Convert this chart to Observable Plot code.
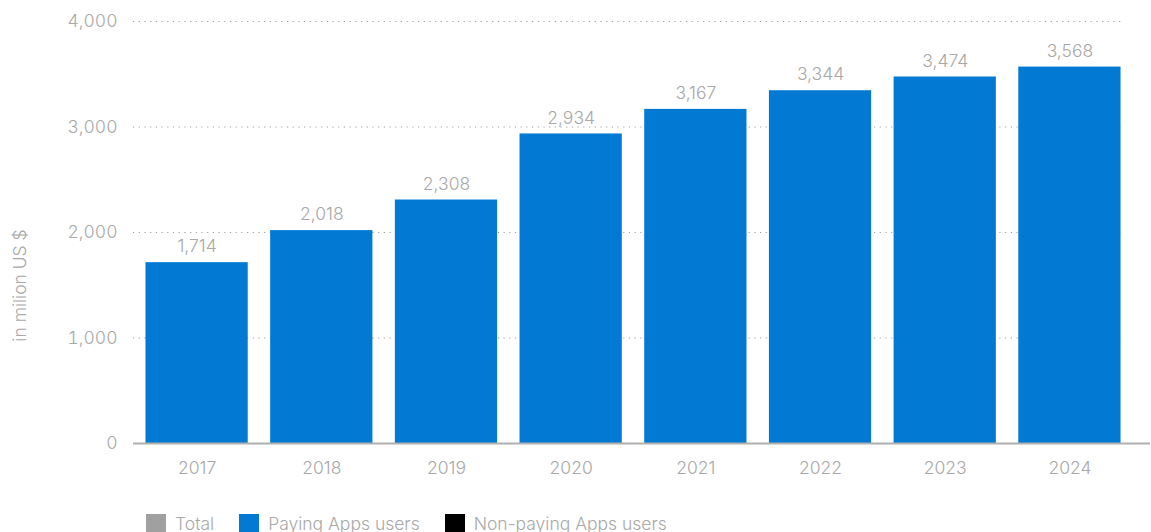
<!DOCTYPE html>
<html>
<head>
<meta charset="utf-8">
<script src="https://cdn.jsdelivr.net/npm/d3@7"></script>
<script src="https://cdn.jsdelivr.net/npm/@observablehq/plot@0.6"></script>
<style>
  html, body { margin: 0; padding: 0; background: #fff; overflow: hidden; }
  body { font-family: Inter, Roboto, sans-serif; font-weight: 300; }
  #legend { display: flex; align-items: center; margin-top: 13px; padding-left: 146px; font-size: 17.5px; color: #a8a8a8; font-weight: 300; }
  .item { display: flex; align-items: center; margin-right: 25px; }
  .sw { width: 20px; height: 20px; margin-right: 9px; }
</style>
</head>
<body>
<div id="chart"></div>
<div id="legend"></div>
<script>
const years = ["2017", "2018", "2019", "2020", "2021", "2022", "2023", "2024"];
const values = [1714, 2018, 2308, 2934, 3167, 3344, 3474, 3568];
const yTicks = [0, 1000, 2000, 3000, 4000];
const legendLabels = ["Total", "Paying Apps users", "Non-paying Apps users"];
const legendColors = ["#a0a0a0", "#0279d3", "#000000"];
const yLabel = "in milion US $";

const data = years.map((y, i) => ({year: y, value: values[i]}));
const textColor = "#a8a8a8";
const fmt = d3.format(",");

const plot = Plot.plot({
  width: 1151,
  height: 500,
  marginTop: 21,
  marginBottom: 57,
  marginLeft: 133,
  marginRight: 1,
  style: {fontFamily: "Inter, Roboto, sans-serif", fontSize: "17.5px", fontWeight: 300, color: textColor, background: "#fff"},
  x: {type: "band", domain: years, range: [133, 1133], paddingInner: 0.18, paddingOuter: 0.1, round: false},
  y: {domain: [0, 4000]},
  marks: [
    Plot.ruleY(yTicks.filter(d => d > 0), {stroke: "#a0a0a0", strokeWidth: 1.2, strokeDasharray: "1.2,4.5", insetRight: 26}),
    Plot.barY(data, {x: "year", y: "value", fill: "#0279d3"}),
    Plot.ruleY([0], {stroke: "#b0b0b0", strokeWidth: 2}),
    Plot.text(data, {x: "year", y: "value", text: d => fmt(d.value), dy: -16, fill: textColor, fontSize: 17.5}),
    Plot.axisY({ticks: yTicks, tickFormat: fmt, tickSize: 0, tickPadding: 16, label: null, fill: textColor}),
    Plot.axisX({tickSize: 0, tickPadding: 18, label: null, fill: textColor}),
    Plot.text([yLabel], {frameAnchor: "left", textAnchor: "middle", text: d => d, rotate: -90, dx: -113, dy: 53, fill: textColor, fontSize: 17.5})
  ]
});
document.getElementById("chart").appendChild(plot);

const legend = document.getElementById("legend");
legendLabels.forEach((l, i) => {
  const it = document.createElement("div");
  it.className = "item";
  it.innerHTML = `<div class="sw" style="background:${legendColors[i]}"></div><span>${l}</span>`;
  legend.appendChild(it);
});
</script>
</body>
</html>
